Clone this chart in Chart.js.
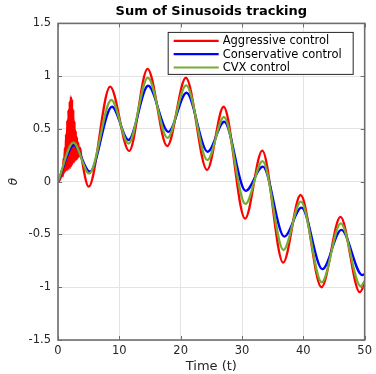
<!DOCTYPE html>
<html>
<head>
<meta charset="utf-8">
<script src="https://cdn.jsdelivr.net/npm/chart.js@4.4.1/dist/chart.umd.min.js"></script>
<style>
html, body { margin: 0; padding: 0; background: #fff; }
#wrap { width: 376px; height: 374px; }
</style>
</head>
<body>
<div id="wrap"><canvas id="chart" width="376" height="374"></canvas></div>
<script>
// 图表数据
const seriesLabels = ['Aggressive control', 'Conservative control', 'CVX control'];
const seriesColors = ['#ff0000', '#0000ff', '#77ac30'];

const aggressiveT = [0, 0.4, 0.7, 0.8, 0.9, 1.0, 1.1, 1.2, 1.3, 1.4, 1.5, 1.6, 1.7, 1.8, 1.9, 2.0,
    2.1, 2.2, 2.3, 2.4, 2.5, 2.6, 2.7, 2.8, 2.9, 3.0, 3.1, 3.2, 3.3, 3.45, 3.6, 3.8,
    5.0, 8.5, 11.6, 14.6, 17.8, 20.85, 24.3, 27.0, 30.5, 33.3, 36.7, 39.55, 42.95, 46.05, 49.2, 50];
const aggressiveTheta = [0, 0.03, 0.12, 0.05, 0.22, 0.08, 0.32, 0.1, 0.45, 0.11, 0.58, 0.11, 0.68, 0.12, 0.76, 0.13,
    0.81, 0.15, 0.78, 0.17, 0.68, 0.18, 0.57, 0.2, 0.48, 0.21, 0.42, 0.22, 0.37, 0.24, 0.32, 0.24,
    -0.047, 0.90, 0.29, 1.07, 0.338, 0.985, 0.111, 0.71, -0.35, 0.294, -0.767, -0.126, -1.0, -0.334, -1.047, -0.97];

const conservativeT = [0, 2.6, 5.2, 8.8, 11.5, 14.7, 18.0, 20.95, 24.4, 27.1, 30.6, 33.4, 36.9, 39.7, 43.1, 46.2, 49.6, 50];
const conservativeTheta = [0, 0.347, 0.095, 0.71, 0.395, 0.909, 0.473, 0.843, 0.284, 0.568, -0.087, 0.142, -0.52, -0.245, -0.828, -0.457, -0.884, -0.875];

const cvxT = [0, 2.5, 5.1, 8.7, 11.5, 14.65, 17.85, 20.9, 24.35, 27.05, 30.55, 33.35, 36.75, 39.6, 43.0, 46.1, 49.35, 50];
const cvxTheta = [0, 0.37, 0.078, 0.774, 0.362, 0.985, 0.415, 0.912, 0.205, 0.613, -0.211, 0.195, -0.647, -0.189, -0.953, -0.394, -0.99, -0.94];

const xTicks = [0, 10, 20, 30, 40, 50];
const yTicks = [-1.5, -1, -0.5, 0, 0.5, 1, 1.5];

const FONT = "'DejaVu Sans', 'Liberation Sans', sans-serif";

function toPoints(ts, vals) {
    return ts.map((t, i) => ({ x: t, y: vals[i] }));
}

// 坐标框和向内的刻度
const framePlugin = {
    id: 'frame',
    afterDatasetsDraw(chart) {
        const { ctx, chartArea: a, scales } = chart;
        ctx.save();
        ctx.strokeStyle = '#6e6e6e';
        ctx.lineWidth = 1;
        xTicks.forEach(v => {
            const px = Math.round(scales.x.getPixelForValue(v)) + 0.5;
            ctx.beginPath();
            ctx.moveTo(px, a.bottom); ctx.lineTo(px, a.bottom - 4);
            ctx.moveTo(px, a.top); ctx.lineTo(px, a.top + 4);
            ctx.stroke();
        });
        yTicks.forEach(v => {
            const py = Math.round(scales.y.getPixelForValue(v)) + 0.5;
            ctx.beginPath();
            ctx.moveTo(a.left, py); ctx.lineTo(a.left + 4, py);
            ctx.moveTo(a.right, py); ctx.lineTo(a.right - 4, py);
            ctx.stroke();
        });
        ctx.lineWidth = 1.6;
        ctx.strokeRect(a.left, a.top, a.right - a.left, a.bottom - a.top);
        ctx.restore();
    }
};

// 图内带边框的图例
const boxLegendPlugin = {
    id: 'boxLegend',
    afterDraw(chart) {
        const { ctx, chartArea: a } = chart;
        const w = 185, h = 42;
        const x0 = a.right - 12 - w;
        const y0 = a.top + 8.5;
        ctx.save();
        ctx.fillStyle = '#ffffff';
        ctx.fillRect(x0, y0, w, h);
        ctx.strokeStyle = '#262626';
        ctx.lineWidth = 1;
        ctx.strokeRect(x0 + 0.5, y0 + 0.5, w, h);
        ctx.font = '11.5px ' + FONT;
        ctx.textBaseline = 'middle';
        ctx.textAlign = 'left';
        chart.data.datasets.forEach((ds, i) => {
            const y = y0 + 9 + i * 13.3;
            ctx.strokeStyle = ds.borderColor;
            ctx.lineWidth = 2.2;
            ctx.beginPath();
            ctx.moveTo(x0 + 6, y);
            ctx.lineTo(x0 + 51, y);
            ctx.stroke();
            ctx.fillStyle = '#000000';
            ctx.fillText(ds.label, x0 + 55, y + 0.5);
        });
        ctx.restore();
    }
};

const datasets = [
    { label: seriesLabels[0], data: toPoints(aggressiveT, aggressiveTheta), borderColor: seriesColors[0], order: 3 },
    { label: seriesLabels[1], data: toPoints(conservativeT, conservativeTheta), borderColor: seriesColors[1], order: 2 },
    { label: seriesLabels[2], data: toPoints(cvxT, cvxTheta), borderColor: seriesColors[2], order: 1 }
].map(ds => Object.assign(ds, {
    borderWidth: 2.3,
    pointRadius: 0,
    fill: false,
    cubicInterpolationMode: 'monotone'
}));

new Chart(document.getElementById('chart').getContext('2d'), {
    type: 'line',
    data: { datasets: datasets },
    options: {
        responsive: false,
        animation: false,
        layout: { padding: { left: 0, right: 9, top: 0, bottom: 0 } },
        plugins: {
            legend: { display: false },
            tooltip: { enabled: false },
            title: {
                display: true,
                text: 'Sum of Sinusoids tracking',
                fullSize: false,
                color: '#000',
                font: { family: FONT, size: 13, weight: 'bold' },
                padding: { top: 4, bottom: 3.8 }
            }
        },
        scales: {
            x: {
                type: 'linear',
                min: 0,
                max: 50,
                afterBuildTicks(scale) { scale.ticks = xTicks.map(v => ({ value: v })); },
                afterFit(scale) { scale.height = 34; },
                ticks: {
                    color: '#262626', font: { family: FONT, size: 11.5 }, padding: 4, maxRotation: 0,
                    callback: v => String(v)
                },
                grid: { color: '#e3e3e3', drawTicks: false },
                border: { display: false },
                title: {
                    display: true,
                    text: 'Time (t)',
                    color: '#262626',
                    font: { family: FONT, size: 13 },
                    padding: { top: 0, bottom: 0 }
                }
            },
            y: {
                type: 'linear',
                min: -1.5,
                max: 1.5,
                afterBuildTicks(scale) { scale.ticks = yTicks.map(v => ({ value: v })); },
                afterFit(scale) { scale.width = 58; },
                ticks: {
                    color: '#262626', font: { family: FONT, size: 11.5 }, padding: 7,
                    callback: v => String(v)
                },
                grid: { color: '#e3e3e3', drawTicks: false },
                border: { display: false },
                title: {
                    display: true,
                    text: 'θ',
                    color: '#262626',
                    font: { family: FONT, size: 12, style: 'italic' },
                    padding: { top: 7, bottom: 0 }
                }
            }
        }
    },
    plugins: [framePlugin, boxLegendPlugin]
});
</script>
</body>
</html>
